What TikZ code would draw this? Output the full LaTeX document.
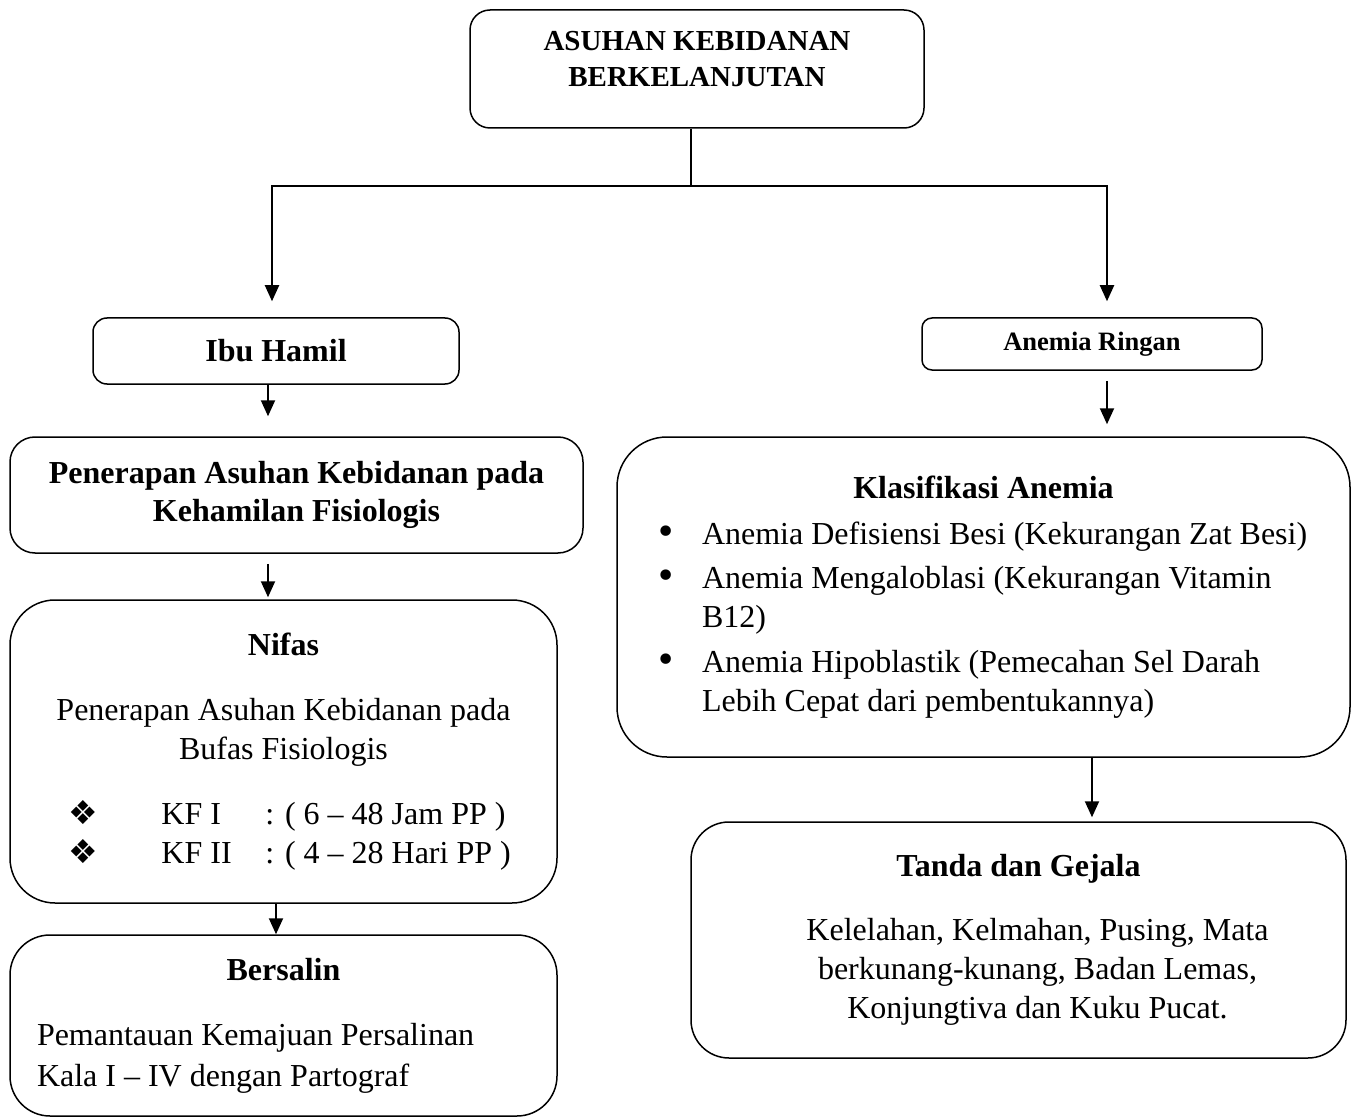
\documentclass[tikz,border=0pt]{standalone}
\usepackage{fontspec}
\setmainfont{Liberation Serif}
\newfontfamily\dingfont{DejaVu Sans}
\usetikzlibrary{arrows.meta}

\newcommand{\badan}{\fontsize{32}{39}\selectfont}
\newcommand{\kf}[2]{\makebox[430pt][l]{\makebox[93pt][l]{{\dingfont\fontsize{33}{39}\selectfont ❖}}\makebox[104pt][l]{#1}#2}}
\newcommand{\butir}[1]{\makebox[657pt][l]{\makebox[47pt][l]{{\dingfont\fontsize{36}{39}\selectfont •}}#1}}
\newcommand{\lanjut}[1]{\makebox[657pt][l]{\hspace*{47pt}#1}}

\begin{document}
\begin{tikzpicture}[x=1pt,y=-1pt,
                    blok/.style={draw,line width=1.5pt,rounded corners=#1,
                                 inner sep=0pt,align=center,font=\badan},
                    blok/.default=20pt,
                    panah/.style={line width=2pt,-{Triangle[width=14pt,length=16pt]}},
                    garis/.style={line width=2pt}]

    \useasboundingbox (0,0) rectangle (1353,1118);

    % puncak
    \node[blok=20pt,minimum width=454pt,minimum height=118pt,
          font=\fontsize{29}{36}\selectfont\bfseries] (asuhan) at (697,69)
          {ASUHAN KEBIDANAN\\BERKELANJUTAN\\[-15pt]\mbox{}};

    % cabang kiri
    \node[blok=14pt,minimum width=366pt,minimum height=66pt,font=\badan\bfseries] (ibu) at (276,351) {Ibu Hamil};
    \node[blok=25pt,minimum width=573pt,minimum height=116pt,font=\badan\bfseries] (kehamilan) at (296.5,495)
          {Penerapan Asuhan Kebidanan pada\\[-1pt]Kehamilan Fisiologis};
    \node[blok=45pt,minimum width=547pt,minimum height=303pt] (nifas) at (283.5,751.5)
          {\textbf{Nifas}\\[26pt]
           Penerapan Asuhan Kebidanan pada\\Bufas Fisiologis\\[26pt]
           \kf{KF I}{: ( 6 – 48 Jam PP )}\\
           \kf{KF II}{: ( 4 – 28 Hari PP )}};
    \node[blok=40pt,minimum width=547pt,minimum height=181pt] (bersalin) at (283.5,1025.5)
          {\textbf{Bersalin}\\[26pt]
           \makebox[493pt][l]{Pemantauan Kemajuan Persalinan}\\[2pt]
           \makebox[493pt][l]{Kala I – IV dengan Partograf}};

    % cabang kanan
    \node[blok=10pt,minimum width=340pt,minimum height=52pt,
          font=\fontsize{26.5}{32}\selectfont\bfseries] (ringan) at (1092,344) {Anemia Ringan};
    \node[blok=50pt,minimum width=733pt,minimum height=320pt] (klasifikasi) at (983.5,597)
          {\textbf{Klasifikasi Anemia}\\[7pt]
           \butir{Anemia Defisiensi Besi (Kekurangan Zat Besi)}\\[5pt]
           \butir{Anemia Mengaloblasi (Kekurangan Vitamin}\\
           \lanjut{B12)}\\[6pt]
           \butir{Anemia Hipoblastik (Pemecahan Sel Darah}\\
           \lanjut{Lebih Cepat dari pembentukannya)}};
    \node[blok=38pt,minimum width=655pt,minimum height=236pt] (tanda) at (1018.5,940)
          {\textbf{Tanda dan Gejala}\\[25pt]
           \hspace*{38pt}Kelelahan, Kelmahan, Pusing, Mata\\
           \hspace*{38pt}berkunang-kunang, Badan Lemas,\\
           \hspace*{38pt}Konjungtiva dan Kuku Pucat.};

    % penghubung
    \coordinate (cabang) at ([xshift=-6pt,yshift=-57pt]asuhan.south);
    \draw[garis] ([xshift=-6pt]asuhan.south) -- (cabang);
    \draw[panah,shorten >=16pt] (cabang) -| ([xshift=-4pt]ibu.north);
    \draw[panah,shorten >=16pt] (cabang) -| ([xshift=15pt]ringan.north);
    \draw[panah,shorten >=20pt] ([xshift=-8pt]ibu.south) -- ([xshift=-8pt]ibu.south |- kehamilan.north);
    \draw[panah,shorten <=10pt,shorten >=2pt] ([xshift=-8pt]ibu.south |- kehamilan.south) -- ([xshift=-8pt]ibu.south |- nifas.north);
    \draw[panah] (nifas.south -| ibu.south) -- (bersalin.north -| ibu.south);
    \draw[panah,shorten <=10pt,shorten >=12pt] ([xshift=15pt]ringan.south) -- ([xshift=15pt]ringan.south |- klasifikasi.north);
    \draw[panah,shorten >=4pt] (klasifikasi.south -| ringan.south) -- (tanda.north -| ringan.south);
\end{tikzpicture}
\end{document}
